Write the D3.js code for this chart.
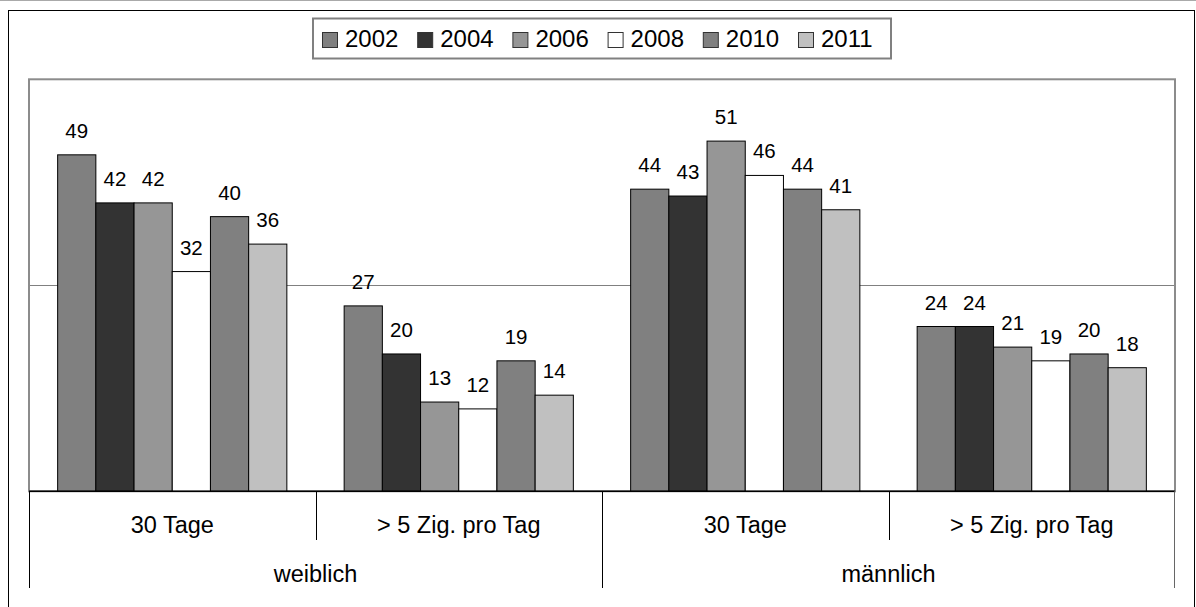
<!DOCTYPE html>
<html>
<head>
<meta charset="utf-8">
<script src="https://cdn.jsdelivr.net/npm/d3@7"></script>
<style>
  html, body { margin: 0; padding: 0; background: #fff; }
  svg { display: block; }
  text { font-family: "Liberation Sans", Arial, sans-serif; fill: #000; }
</style>
</head>
<body>
<svg id="chart" width="1196" height="607"></svg>
<script>
// ---- data ----
const categories = ["30 Tage", "> 5 Zig. pro Tag", "30 Tage", "> 5 Zig. pro Tag"];
const groups = ["weiblich", "männlich"];
const years = ["2002", "2004", "2006", "2008", "2010", "2011"];
const s2002 = [49, 27, 44, 24];
const s2004 = [42, 20, 43, 24];
const s2006 = [42, 13, 51, 21];
const s2008 = [32, 12, 46, 19];
const s2010 = [40, 19, 44, 20];
const s2011 = [36, 14, 41, 18];
const seriesValues = [s2002, s2004, s2006, s2008, s2010, s2011];
const yTicks = [0, 30, 60];
const colors = ["#808080", "#333333", "#969696", "#ffffff", "#808080", "#c0c0c0"];

// ---- layout ----
const svg = d3.select("#chart");
const plot = { left: 29, right: 1175, top: 79.3, bottom: 491.3 };

const catIdx = categories.map((_, i) => i);
const x0 = d3.scaleBand().domain(catIdx).range([plot.left, plot.right]).paddingInner(0).paddingOuter(0);
const x1 = d3.scaleBand().domain(years).range([0, x0.bandwidth()]).paddingInner(0).paddingOuter(0.75);
const y = d3.scaleLinear().domain([0, 60]).range([plot.bottom, plot.top]);

// top faint line
svg.append("line").attr("x1", 0).attr("x2", 1196).attr("y1", 0.5).attr("y2", 0.5)
  .attr("stroke", "#aaaaaa").attr("stroke-width", 1);

// outer chart border
svg.append("rect").attr("x", 8.5).attr("y", 10.5).attr("width", 1186).attr("height", 620)
  .attr("fill", "none").attr("stroke", "#000").attr("stroke-width", 1);

// gridlines
svg.append("g").selectAll("line").data(yTicks.filter(t => t > 0 && t < 60)).join("line")
  .attr("x1", plot.left).attr("x2", plot.right)
  .attr("y1", d => Math.round(y(d)) + 0.5).attr("y2", d => Math.round(y(d)) + 0.5)
  .attr("stroke", "#808080").attr("stroke-width", 1);

// plot area border
svg.append("rect").attr("x", plot.left).attr("y", plot.top)
  .attr("width", plot.right - plot.left).attr("height", plot.bottom - plot.top)
  .attr("fill", "none").attr("stroke", "#8c8c8c").attr("stroke-width", 2);

// bars
const barG = svg.append("g");
years.forEach((yr, si) => {
  barG.selectAll(null).data(seriesValues[si]).join("rect")
    .attr("x", (d, ci) => x0(ci) + x1(yr))
    .attr("y", d => y(d))
    .attr("width", x1.bandwidth())
    .attr("height", d => y(0) - y(d))
    .attr("fill", colors[si])
    .attr("stroke", "#000").attr("stroke-width", 1);
});

// data labels
const lblG = svg.append("g");
years.forEach((yr, si) => {
  lblG.selectAll(null).data(seriesValues[si]).join("text")
    .attr("x", (d, ci) => x0(ci) + x1(yr) + x1.bandwidth() / 2)
    .attr("y", d => y(d) - 17)
    .attr("text-anchor", "middle")
    .style("font-size", "20.5px")
    .text(d => d);
});

// category axis
const axG = svg.append("g");
axG.append("line").attr("x1", plot.left).attr("x2", plot.right)
  .attr("y1", plot.bottom).attr("y2", plot.bottom)
  .attr("stroke", "#000").attr("stroke-width", 1.5);

const row1Top = plot.bottom, row1Bot = 540, row2Bot = 588;
const sepsL1 = [1, 3];
axG.selectAll(".s1").data(sepsL1).join("line")
  .attr("x1", d => Math.round(x0(d)) + 0.5).attr("x2", d => Math.round(x0(d)) + 0.5)
  .attr("y1", row1Top).attr("y2", row1Bot)
  .attr("stroke", "#000").attr("stroke-width", 1);
const sepsL2 = [0, 2, 4];
axG.selectAll(".s2").data(sepsL2).join("line")
  .attr("x1", d => d < 4 ? Math.round(x0(d)) + 0.5 : plot.right - 0.5)
  .attr("x2", d => d < 4 ? Math.round(x0(d)) + 0.5 : plot.right - 0.5)
  .attr("y1", row1Top).attr("y2", row2Bot)
  .attr("stroke", d => d === 4 ? "#666" : "#000").attr("stroke-width", 1);

axG.selectAll(".c1").data(categories).join("text")
  .attr("x", (d, i) => x0(i) + x0.bandwidth() / 2)
  .attr("y", 533)
  .attr("text-anchor", "middle")
  .style("font-size", "23.5px")
  .text(d => d);

axG.selectAll(".c2").data(groups).join("text")
  .attr("x", (d, i) => x0(i * 2) + x0.bandwidth())
  .attr("y", 582)
  .attr("text-anchor", "middle")
  .style("font-size", "23.5px")
  .text(d => d);

// legend
const lg = svg.append("g");
lg.append("rect").attr("x", 313).attr("y", 18.5).attr("width", 578).attr("height", 40)
  .attr("fill", "#fff").attr("stroke", "#808080").attr("stroke-width", 2);
const legX = d3.scaleLinear().domain([0, 1]).range([322, 322 + 95.2]);
const items = lg.selectAll(".li").data(years).join("g")
  .attr("transform", (d, i) => `translate(${legX(i)},0)`);
items.append("rect").attr("x", 0.5).attr("y", 32.5).attr("width", 15).attr("height", 15)
  .attr("fill", (d, i) => colors[i]).attr("stroke", "#333").attr("stroke-width", 1);
items.append("text").attr("x", 23).attr("y", 47.3)
  .style("font-size", "24px")
  .text(d => d);
</script>
</body>
</html>
